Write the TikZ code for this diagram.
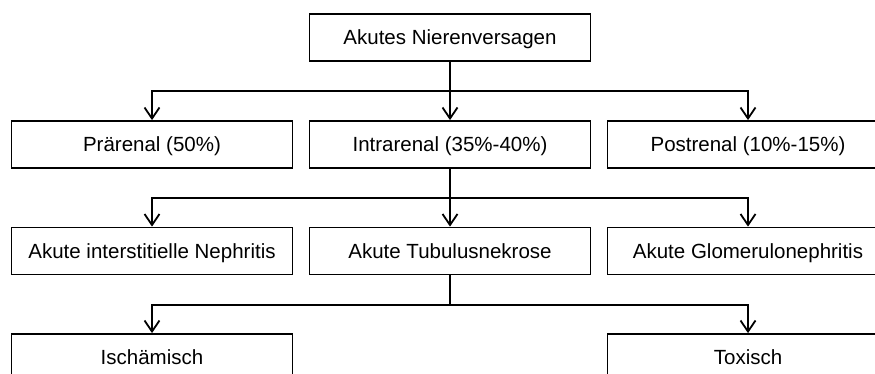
\documentclass[tikz,border=0pt]{standalone}
\usepackage{fontspec}
\setmainfont{Liberation Sans}
\usetikzlibrary{arrows.meta}
\tikzset{
  box/.style   = {draw, line width=1.8pt, minimum width=281pt, minimum height=47pt,
                  inner sep=0pt, text height=14.7pt, text depth=0pt,
                  font=\fontsize{20.5}{24}\selectfont},
  arr/.style   = {line width=1.8pt, -{Straight Barb[length=11pt,width=15pt]}},
}
\begin{document}
\begin{tikzpicture}[x=1pt, y=-1pt]

% page frame (pixels of the reference)
\clip (0,0) rectangle (875,374);

% rows and columns
\def\colL{152}
\def\colM{450}
\def\colR{748}
\def\drop{29.5}  % from box bottom down to the bus

% --- row 1 ---
\node[box] (anv) at (\colM,37.5) {Akutes Nierenversagen};

% --- row 2 ---
\node[box] (pre)  at (\colL,144.5) {Prärenal (50\%)};
\node[box] (intra) at (\colM,144.5) {Intrarenal (35\%-40\%)};
\node[box] (post) at (\colR,144.5) {Postrenal (10\%-15\%)};

% --- row 3 ---
\node[box] (ain) at (\colL,251) {Akute interstitielle Nephritis};
\node[box] (atn) at (\colM,251) {Akute Tubulusnekrose};
\node[box] (agn) at (\colR,251) {Akute Glomerulonephritis};

% --- row 4 ---
\node[box] (isch) at (\colL,357.5) {Ischämisch};
\node[box] (tox)  at (\colR,357.5) {Toxisch};

% connectors
\foreach \src/\dst in {anv/pre, anv/intra, anv/post,
                       intra/ain, intra/atn, intra/agn,
                       atn/isch, atn/tox}
  \draw[arr] (\src.south) -- ++(0,\drop) -| (\dst.north);

\end{tikzpicture}
\end{document}
